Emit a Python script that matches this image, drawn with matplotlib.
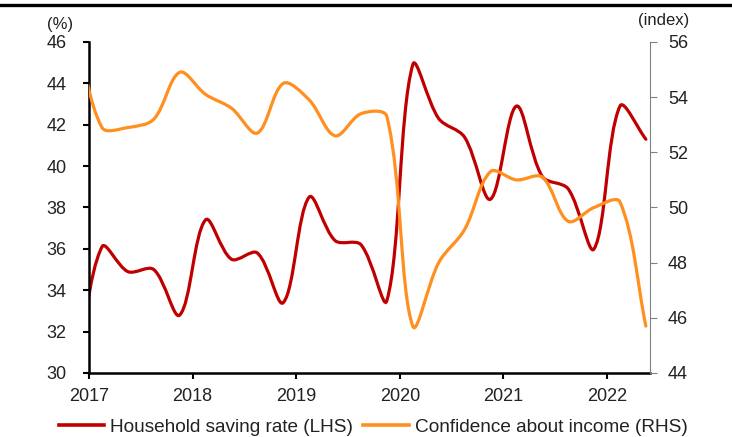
import numpy as np
import matplotlib.pyplot as plt
from matplotlib.path import Path
from matplotlib.patches import PathPatch
from matplotlib.lines import Line2D

plt.rcParams['font.family'] = ['Liberation Sans', 'DejaVu Sans']

# quarterly data, plotted at mid-quarter (first point = 2016Q4, clipped at axis start)
quarters = 2016.875 + 0.25 * np.arange(23)
saving_rate = [29.8, 36.1, 34.9, 35.0, 32.8, 37.4, 35.5, 35.8, 33.4, 38.5, 36.4,
               36.2, 33.5, 44.9, 42.3, 41.4, 38.4, 42.9, 39.5, 38.9, 36.0, 42.9, 41.3]
income_conf = [56.4, 52.9, 52.9, 53.2, 54.9, 54.1, 53.6, 52.7, 54.5, 53.9, 52.6,
               53.4, 53.3, 45.7, 48.0, 49.2, 51.3, 51.0, 51.1, 49.5, 50.0, 50.2, 45.7]

years = [2017, 2018, 2019, 2020, 2021, 2022]
red = '#C00000'
orange = '#FF8F1F'


def smooth_path(x, y, ky):
    # Excel-like smoothed line: cubic Bezier through the points,
    # tangents weighted by segment length (in screen units) to limit overshoot
    kx = 103.6
    pts = np.column_stack([np.asarray(x) * kx, np.asarray(y) * ky]).astype(float)
    n = len(pts)
    c_in = pts.copy()
    c_out = pts.copy()
    for i in range(n):
        p0 = pts[max(i - 1, 0)]
        p2 = pts[min(i + 1, n - 1)]
        d0 = np.hypot(*(pts[i] - p0))
        d1 = np.hypot(*(p2 - pts[i]))
        if d0 + d1 == 0:
            continue
        t = (p2 - p0) / (d0 + d1) / 3
        c_in[i] = pts[i] - t * d0
        c_out[i] = pts[i] + t * d1
    verts = [pts[0]]
    codes = [Path.MOVETO]
    for i in range(n - 1):
        verts += [c_out[i], c_in[i + 1], pts[i + 1]]
        codes += [Path.CURVE4] * 3
    verts = np.array(verts) / [kx, ky]
    return Path(verts, codes)


fig = plt.figure(figsize=(7.32, 4.37), dpi=100)
ax = fig.add_axes([0.1216, 0.1465, 0.7664, 0.7574])
ax2 = ax.twinx()

ax.add_patch(PathPatch(smooth_path(quarters, saving_rate, 20.69), fill=False,
                       edgecolor=red, lw=2.3, capstyle='round'))
ax2.add_patch(PathPatch(smooth_path(quarters, income_conf, 27.58), fill=False,
                        edgecolor=orange, lw=2.3, capstyle='round'))

ax.set_xlim(2017.0, 2022.415)
ax.set_ylim(30, 46)
ax2.set_ylim(44, 56)
ax.set_yticks(range(30, 47, 2))
ax2.set_yticks(range(44, 57, 2))
ax.set_xticks(years)
ax.set_xticklabels([str(y) for y in years])

for a in (ax, ax2):
    a.spines['top'].set_visible(False)
ax.spines['right'].set_visible(False)
ax2.spines['left'].set_visible(False)
ax2.spines['bottom'].set_visible(False)
ax.spines['left'].set_linewidth(1.8)
ax.spines['bottom'].set_linewidth(1.8)
ax2.spines['right'].set_color('#808080')
ax2.spines['right'].set_linewidth(0.8)

ax.tick_params(axis='y', direction='out', length=4, width=1.5, pad=12,
               labelsize=13, colors='black', labelcolor='#222222')
ax.tick_params(axis='x', direction='out', length=4, width=1.5, pad=7,
               labelsize=13, colors='black', labelcolor='#222222')
ax2.tick_params(axis='y', direction='out', length=5, width=0.8, pad=8,
                labelsize=13, colors='#808080', labelcolor='#222222')

fig.text(60 / 732, 1 - 25 / 437, '(%)', fontsize=12, color='#222222',
         ha='center', va='center')
fig.text(664 / 732, 1 - 20 / 437, '(index)', fontsize=12, color='#222222',
         ha='center', va='center')

# thick rule across the top of the figure
fig.add_artist(Line2D([0, 1], [1 - 5 / 437, 1 - 5 / 437], color='black',
                      lw=2.4, transform=fig.transFigure))

handles = [Line2D([], [], color=red, lw=2.6),
           Line2D([], [], color=orange, lw=2.6)]
labels = ['Household saving rate (LHS)', 'Confidence about income (RHS)']
fig.legend(handles, labels, loc='center', bbox_to_anchor=(373 / 732, 1 - 427 / 437),
           ncol=2, frameon=False, fontsize=13.7, handlelength=2.4,
           handletextpad=0.3, columnspacing=0.55, labelcolor='#222222')

fig.savefig('out.png', dpi=100)
